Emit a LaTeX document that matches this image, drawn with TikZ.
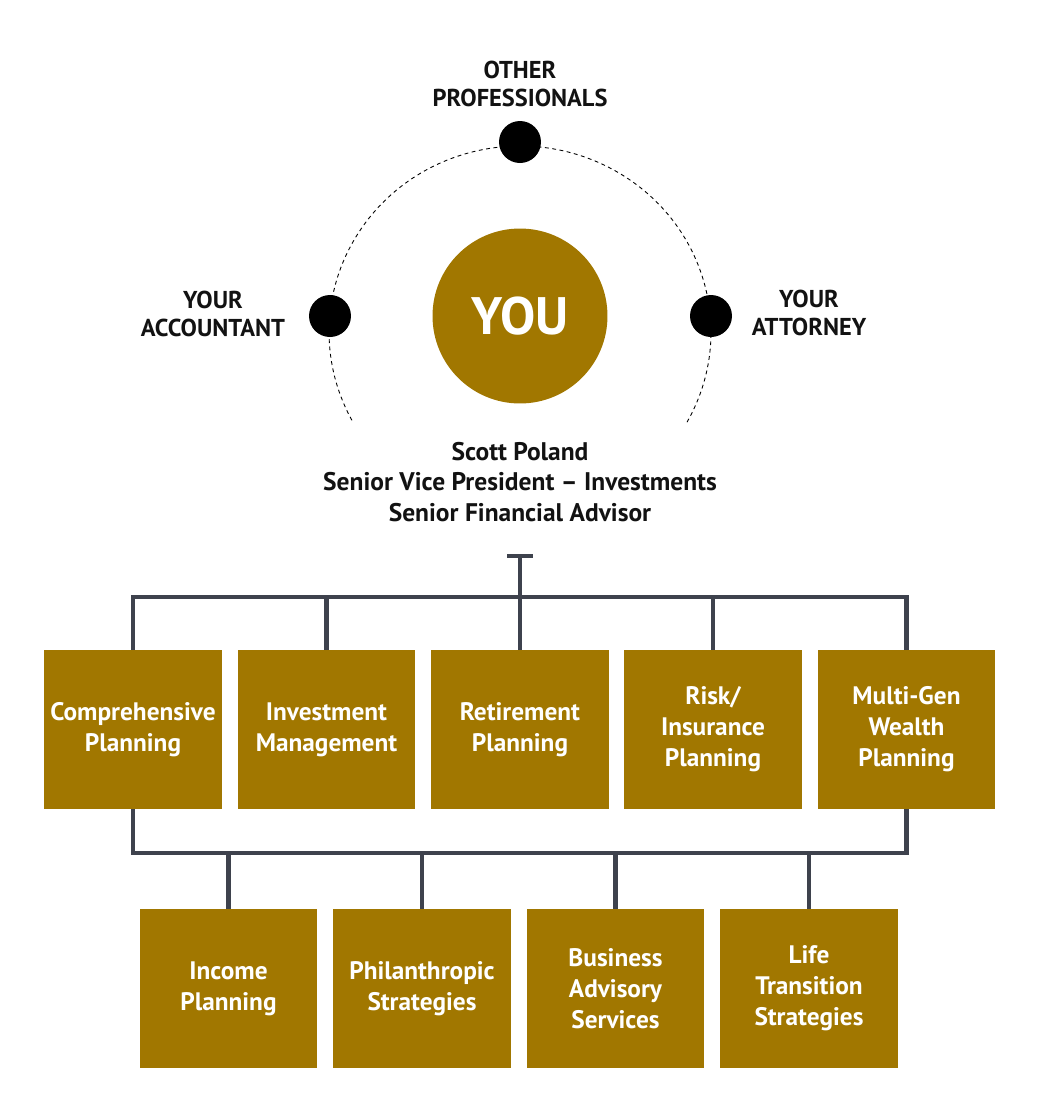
\documentclass[tikz,border=0pt]{standalone}
\usepackage{fontspec}
\setmainfont{PT Sans}
\usepackage{tikz}
\usetikzlibrary{positioning,calc}
\usetikzlibrary{arrows.meta}
\definecolor{gold}{RGB}{161,119,0}
\definecolor{slate}{RGB}{62,66,77}
\tikzstyle{service} = [rectangle, fill=gold, text=white, minimum width=3.56cm, minimum height=3.18cm, inner sep=0pt, text width=3.5cm, align=center, font=\fontsize{14.4}{17.6}\selectfont\bfseries]
\tikzstyle{contact} = [circle, fill=black, minimum size=0.84cm, inner sep=0pt]
\tikzstyle{caption} = [align=center, text=black!93, font=\fontsize{13.9}{15.9}\selectfont\bfseries]
\tikzstyle{link} = [slate, line width=2.3pt]

\begin{document}
\begin{tikzpicture}[x=0.02cm,y=0.02cm]
	\useasboundingbox (0,0) rectangle (1040,-1117);
	% circle of advisors
	\draw[dashed, dash pattern=on 2.2pt off 2pt, line width=0.5pt] (520,-332) ++(-29:3.82cm and 3.72cm) arc[start angle=-29, end angle=209, x radius=3.82cm, y radius=3.72cm];
	\node (you) at (520,-316) [circle, fill=gold, minimum size=3.5cm, inner sep=0pt, text=white, font=\fontsize{30}{32}\selectfont\bfseries] {YOU};
	\node (other) at (520,-142) [contact] {};
	\node (acct) at (330,-316) [contact] {};
	\node (atty) at (711,-316) [contact] {};
	\node (otherlbl) at (520,-84) [caption] {OTHER\\PROFESSIONALS};
	\node (acctlbl) at (213,-314) [caption] {YOUR\\ACCOUNTANT};
	\node (attylbl) at (809,-313) [caption] {YOUR\\ATTORNEY};
	\node (advisor) at (520,-482) [caption, font=\fontsize{14.5}{17.6}\selectfont\bfseries] {Scott Poland\\Senior Vice President -- Investments\\Senior Financial Advisor};
	% services
	\node (c1) at (133,-729.5) [service] {Comprehensive\\Planning};
	\node (c2) at (326.5,-729.5) [service] {Investment\\Management};
	\node (c3) at (520,-729.5) [service] {Retirement\\Planning};
	\node (c4) at (713,-729.5) [service] {Risk/\\Insurance\\Planning};
	\node (c5) at (906.5,-729.5) [service] {Multi-Gen\\Wealth\\Planning};
	\node (d1) at (228.5,-988.5) [service] {Income\\Planning};
	\node (d2) at (422,-988.5) [service] {Philanthropic\\Strategies};
	\node (d3) at (615.5,-988.5) [service] {Business\\Advisory\\Services};
	\node (d4) at (809,-988.5) [service] {Life\\Transition\\Strategies};
	% connectors
	\coordinate (tee) at (520,-554);
	\coordinate (bus) at (520,-597);
	\coordinate (low) at (520,-853);
	\draw[link] (c1.north) |- (c5.north |- bus) -- (c5.north);
	\foreach \n in {c2,c3,c4}
		\draw[link] (\n.north) -- (\n.north |- bus);
	\draw[link, {Bar[width=5.2mm]}-] (tee) -- (bus);
	\draw[link] (c1.south) |- (c5.south |- low) -- (c5.south);
	\foreach \n in {d1,d2,d3,d4}
		\draw[link] (\n.north) -- (\n.north |- low);
\end{tikzpicture}
\end{document}
